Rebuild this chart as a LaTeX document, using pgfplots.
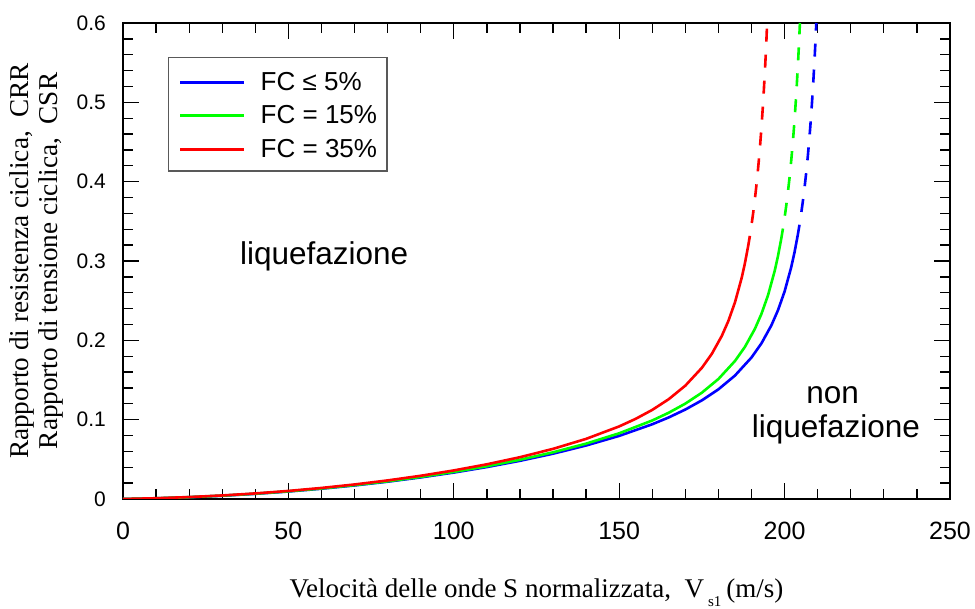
\documentclass[border=0pt]{standalone}
\usepackage{pgfplots}
\pgfplotsset{compat=1.18}
\usepackage{fontspec}
\setmainfont{Liberation Serif}
\newfontfamily\arial{Liberation Sans}
\begin{document}
\begin{tikzpicture}
\path[use as bounding box] (0,0) rectangle (975pt,609pt);
\begin{axis}[
  at={(123pt,110pt)}, anchor=south west,
  scale only axis, width=827pt, height=476pt,
  xmin=0, xmax=250, ymin=0, ymax=0.6,
  xtick={0,50,100,150,200,250}, xticklabels={0,50,100,150,200,250},
  ytick={0,0.1,0.2,0.3,0.4,0.5,0.6}, yticklabels={0,0.1,0.2,0.3,0.4,0.5,0.6},
  minor x tick num=4, minor y tick num=4,
  tick align=inside, xtick pos=both, ytick pos=both,
  xticklabel pos=lower, yticklabel pos=left,
  major tick length=16pt, minor tick length=10pt,
  every tick/.style={black, line width=1.3pt},
  axis line style={line width=1.8pt},
  xticklabel style={font=\arial\fontsize{25}{25}\selectfont, inner sep=0pt, yshift=-23pt},
  yticklabel style={font=\arial\fontsize{21}{21}\selectfont, inner sep=0pt, xshift=-17pt},
  xlabel={Velocità delle onde S normalizzata,\ \ V\hspace{4pt}\raisebox{-9pt}{\fontsize{15}{15}\selectfont s1}\hspace{5pt}(m/s)},
  xlabel style={at={(axis description cs:0.5,-0.2059)}, anchor=base, font=\fontsize{27}{27}\selectfont},
  ylabel={Rapporto di resistenza ciclica,\ \ CRR\\Rapporto di tensione ciclica,\ \ CSR},
  ylabel style={at={(axis description cs:-0.1046,0.5)}, anchor=center, align=center, font=\fontsize{27.2}{29}\selectfont},
  legend style={at={(axis description cs:0.0544,0.9286)}, anchor=north west, draw=black!65, line width=1.5pt,
    inner xsep=10pt, inner ysep=14pt, row sep=15pt, column sep=15pt,
    nodes={inner sep=0pt, text height=18.5pt, text depth=0pt, font=\arial\fontsize{26}{26}\selectfont}},
  legend cell align=left,
  legend image code/.code={\draw[#1,line width=3pt] (0pt,-1.5pt) -- (64pt,-1.5pt);},
]
\addplot[blue, line width=2.6pt, line join=round] coordinates {(0,0) (10,0.000855) (20,0.002216) (30,0.004092) (40,0.006497) (50,0.009446) (60,0.012961) (70,0.017067) (80,0.021797) (90,0.027197) (100,0.033325) (110,0.040263) (120,0.04813) (130,0.057098) (140,0.06743) (150,0.079554) (160,0.094206) (165,0.102872) (170,0.112779) (175,0.124352) (180,0.138257) (185,0.155605) (190,0.178397) (193,0.196197) (196,0.21886) (198,0.237931) (200,0.261643) (202,0.29213) (203,0.31097) (204,0.333077) (204.5,0.345647)};
\addlegendentry{FC ≤ 5\%}
\addplot[blue, line width=2.6pt, line join=round, dash pattern=on 13pt off 13pt, dash phase=13pt, forget plot] coordinates {(204.5,0.345647) (205,0.359432) (205.5,0.374621) (206,0.391447) (206.5,0.410202) (207,0.431245) (207.5,0.455034) (208,0.482158) (208.5,0.513385) (209,0.549741) (209.25,0.570262) (209.5,0.592626) (209.57,0.6)};
\addplot[green, line width=2.6pt, line join=round] coordinates {(0,0) (10,0.000887) (20,0.002284) (30,0.004202) (40,0.006657) (50,0.009667) (60,0.013253) (70,0.017447) (80,0.022285) (90,0.02782) (100,0.034121) (110,0.041287) (120,0.049458) (130,0.058847) (140,0.069787) (150,0.082833) (160,0.098987) (165,0.108784) (170,0.120247) (175,0.134042) (180,0.15128) (185,0.173962) (188,0.191696) (191,0.214293) (193,0.23332) (195,0.256988) (197,0.287431) (198,0.306249) (199,0.328334) (199.5,0.340893)};
\addlegendentry{FC = 15\%}
\addplot[green, line width=2.6pt, line join=round, dash pattern=on 13pt off 13pt, dash phase=13pt, forget plot] coordinates {(199.5,0.340893) (200,0.354667) (200.5,0.369844) (201,0.38666) (201.5,0.405404) (202,0.426436) (202.5,0.450213) (203,0.477327) (203.5,0.508543) (204,0.544888) (204.25,0.565403) (204.5,0.587762) (204.63,0.6)};
\addplot[red, line width=2.6pt, line join=round] coordinates {(0,0) (10,0.000957) (20,0.002436) (30,0.004451) (40,0.00702) (50,0.010167) (60,0.01392) (70,0.018318) (80,0.023413) (90,0.029275) (100,0.036) (110,0.043731) (120,0.05268) (130,0.06318) (140,0.075787) (150,0.0915) (155,0.101077) (160,0.11232) (165,0.125895) (170,0.142913) (175,0.165375) (178,0.182978) (181,0.205442) (183,0.224382) (185,0.247962) (187,0.278317) (188,0.29709) (189,0.319131) (189.5,0.331669)};
\addlegendentry{FC = 35\%}
\addplot[red, line width=2.6pt, line join=round, dash pattern=on 13pt off 13pt, dash phase=13pt, forget plot] coordinates {(189.5,0.331669) (190,0.34542) (190.5,0.360575) (191,0.377369) (191.5,0.396091) (192,0.4171) (192.5,0.440857) (193,0.467948) (193.5,0.499142) (194,0.535466) (194.25,0.555968) (194.5,0.578317) (194.72,0.6)};
\node[font=\arial\fontsize{31.5}{31.5}\selectfont, anchor=base, inner sep=0pt] at (axis cs:60.8,0.295) {liquefazione};
\node[font=\arial\fontsize{31.5}{31.5}\selectfont, anchor=base, inner sep=0pt] at (axis cs:214.5,0.121) {non};
\node[font=\arial\fontsize{31.5}{31.5}\selectfont, anchor=base, inner sep=0pt] at (axis cs:215.5,0.078) {liquefazione};
\end{axis}
\end{tikzpicture}
\end{document}
